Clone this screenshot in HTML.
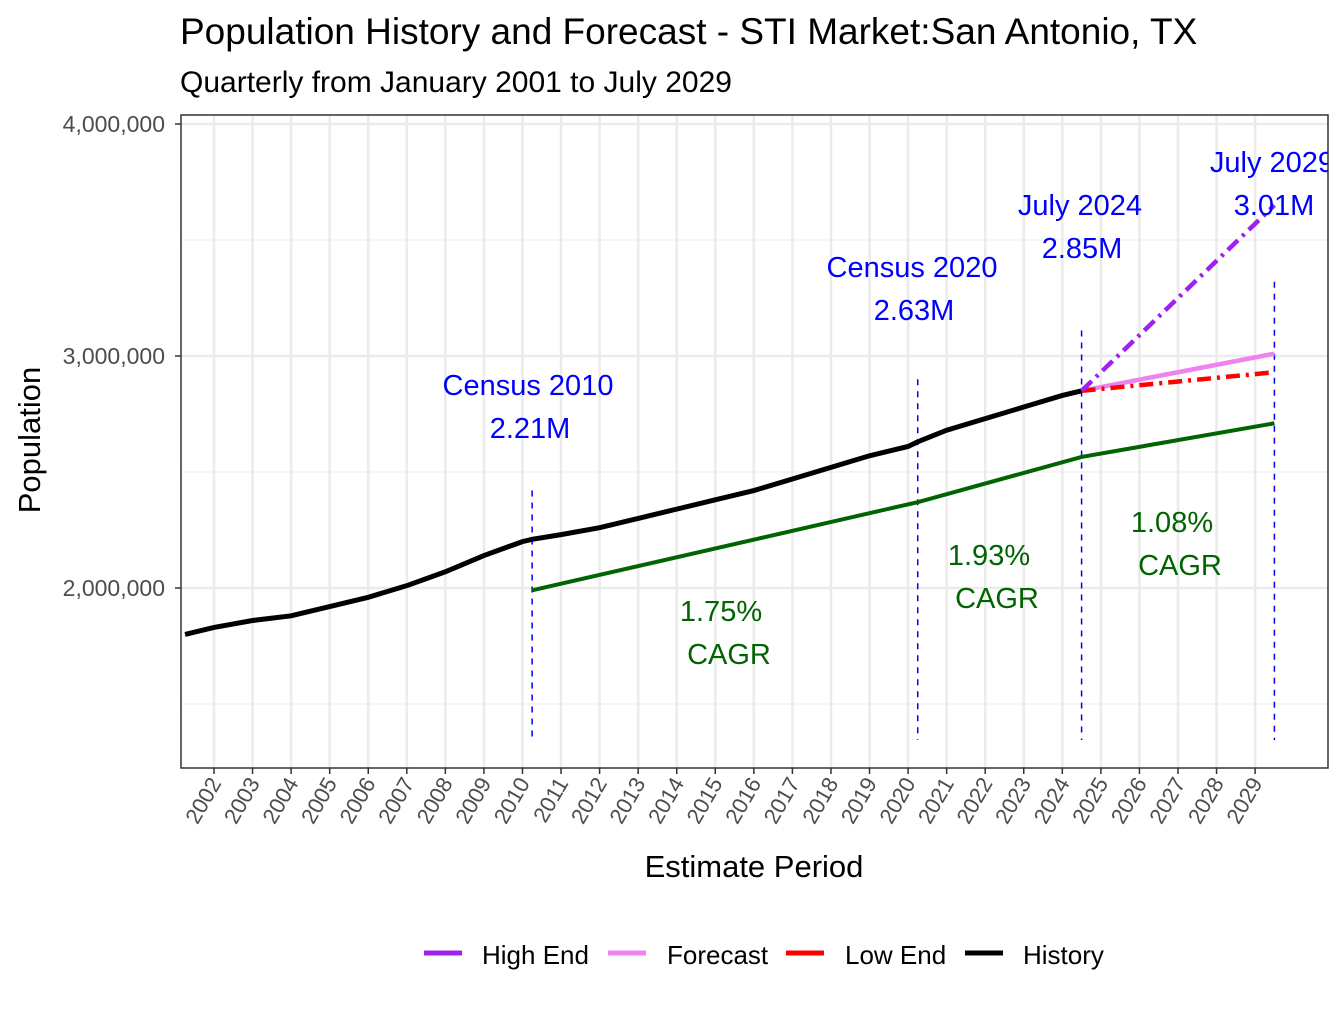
<!DOCTYPE html>
<html><head><meta charset="utf-8"><style>
body{margin:0;background:#fff;}
svg text{font-family:"Liberation Sans",Arial,sans-serif;}
</style></head><body>
<svg id="chart" width="1344" height="1008" xmlns="http://www.w3.org/2000/svg">
<text x="180" y="44" font-size="37" fill="#000">Population History and Forecast - STI Market:San Antonio, TX</text>
<text x="180" y="92" font-size="30" fill="#000">Quarterly from January 2001 to July 2029</text>
<defs><clipPath id="panel"><rect x="181" y="115" width="1147" height="653"/></clipPath></defs>
<g id="grid"></g>
<g id="marks" clip-path="url(#panel)"></g>
<rect x="181" y="115" width="1147" height="653" fill="none" stroke="#333" stroke-width="1.5"/>
<g id="axes"></g>
<text transform="translate(40,440) rotate(-90)" text-anchor="middle" font-size="31" fill="#000">Population</text>
<text x="754" y="877" text-anchor="middle" font-size="31" fill="#000">Estimate Period</text>
<g font-size="26" fill="#000">
<line x1="424" y1="953" x2="462" y2="953" stroke="#a020f0" stroke-width="5"/><text x="482" y="964">High End</text>
<line x1="608" y1="953" x2="646" y2="953" stroke="#ee82ee" stroke-width="5"/><text x="667" y="964">Forecast</text>
<line x1="786" y1="953" x2="824" y2="953" stroke="#ff0000" stroke-width="5"/><text x="845" y="964">Low End</text>
<line x1="965" y1="953" x2="1003" y2="953" stroke="#000" stroke-width="5"/><text x="1023" y="964">History</text>
</g>
</svg>
<script>
const histYears=[2001.25,2002,2003,2004,2005,2006,2007,2008,2009,2010,2010.25,2011,2012,2013,2014,2015,2016,2017,2018,2019,2020,2020.25,2021,2022,2023,2024,2024.5];
const histVals=[1.80,1.83,1.86,1.88,1.92,1.96,2.01,2.07,2.14,2.20,2.21,2.23,2.26,2.30,2.34,2.38,2.42,2.47,2.52,2.57,2.61,2.63,2.68,2.73,2.78,2.83,2.85];
const fcYears=[2024.5,2029.5];
const forecastVals=[2.85,3.01];
const lowVals=[2.85,2.93];
const highVals=[2.85,3.65];
const cagrYears=[2010.25,2020.25,2024.5,2029.5];
const cagrVals=[1.99,2.37,2.565,2.71];
const yTicks=[2,3,4];
const yTickLabels=["2,000,000","3,000,000","4,000,000"];
const yMinor=[1.5,2.5,3.5];
const annotYears=[2010.25,2020.25,2024.5,2029.5];
const annotTitles=["Census 2010","Census 2020","July 2024","July 2029"];
const annotVals=["2.21M","2.63M","2.85M","3.01M"];
const cagrLabels=["1.75%","1.93%","1.08%"];

const X=y=>214+(y-2002)*38.56;
const Y=v=>588-(v-2)*232;
const NS="http://www.w3.org/2000/svg";
function mk(tag,attrs,parent,txt){const e=document.createElementNS(NS,tag);for(const k in attrs)e.setAttribute(k,attrs[k]);if(txt!==undefined)e.textContent=txt;parent.appendChild(e);return e;}
const grid=document.getElementById('grid'),marks=document.getElementById('marks'),axes=document.getElementById('axes');
mk('rect',{x:181,y:115,width:1147,height:653,fill:'#fff'},grid);
yMinor.forEach(v=>{const l=mk('line',{x1:181,x2:1328,y1:Y(v),y2:Y(v),stroke:'#ebebeb','stroke-width':1},grid);

});
yTicks.forEach((v,i)=>{const l=mk('line',{x1:181,x2:1328,y1:Y(v),y2:Y(v),stroke:'#ebebeb','stroke-width':2.5},grid);


mk('line',{x1:175,x2:181,y1:Y(v),y2:Y(v),stroke:'#333','stroke-width':1.5},axes);
const t=mk('text',{x:165,y:Y(v)+8,'text-anchor':'end','font-size':23,fill:'#4d4d4d'},axes,yTickLabels[i]);

});
for(let yr=2002;yr<=2029;yr++){const x=X(yr);
const l=mk('line',{x1:x,x2:x,y1:115,y2:768,stroke:'#ebebeb','stroke-width':2.5},grid);


mk('line',{x1:x,x2:x,y1:768,y2:774,stroke:'#333','stroke-width':1.5},axes);
const t=mk('text',{transform:`translate(${x+8},${783}) rotate(-60)`,'text-anchor':'end','font-size':22,fill:'#4d4d4d'},axes,String(yr));

}
function pts(xs,vs){return xs.map((x,i)=>X(x)+','+Y(vs[i])).join(' ');}
const vtops=[2.42,2.9,3.11,3.32];
annotYears.forEach((yr,i)=>{const l=mk('line',{x1:X(yr),x2:X(yr),y1:Y(vtops[i]),y2:740,stroke:'#0000ff','stroke-width':1.5,'stroke-dasharray':'6,6'},marks);

});
let p;
p=mk('polyline',{points:pts(cagrYears,cagrVals),fill:'none',stroke:'#006400','stroke-width':4},marks);


p=mk('polyline',{points:pts(histYears,histVals),fill:'none',stroke:'#000','stroke-width':5},marks);


p=mk('polyline',{points:pts(fcYears,forecastVals),fill:'none',stroke:'#ee82ee','stroke-width':4.5},marks);


p=mk('polyline',{points:pts(fcYears,lowVals),fill:'none',stroke:'#ff0000','stroke-width':4.5,'stroke-dasharray':'14,6,3,6'},marks);


p=mk('polyline',{points:pts(fcYears,highVals),fill:'none',stroke:'#a020f0','stroke-width':4.5,'stroke-dasharray':'14,6,3,6'},marks);


const aPos=[[528,385],[912,267],[1080,205],[1272,162]];
annotTitles.forEach((s,i)=>{const t=mk('text',{x:aPos[i][0],y:aPos[i][1]+10,'text-anchor':'middle','font-size':29,fill:'#0000ff'},marks,s);


const v=mk('text',{x:aPos[i][0]+2,y:aPos[i][1]+53,'text-anchor':'middle','font-size':29,fill:'#0000ff'},marks,annotVals[i]);

});
const cPos=[[721,611],[989,555],[1172,522]];
cagrLabels.forEach((s,i)=>{const t=mk('text',{x:cPos[i][0],y:cPos[i][1]+10,'text-anchor':'middle','font-size':29,fill:'#006400'},marks,s);


const c=mk('text',{x:cPos[i][0]+8,y:cPos[i][1]+53,'text-anchor':'middle','font-size':29,fill:'#006400'},marks,'CAGR');

});
</script>
</body></html>
